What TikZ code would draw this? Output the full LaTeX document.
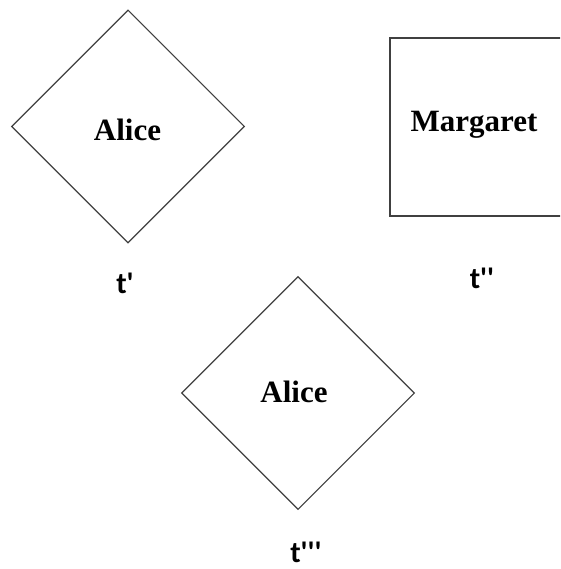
\documentclass[tikz,border=0pt]{standalone}
\usepackage{fontspec}
\usetikzlibrary{shapes.geometric}
\newfontfamily\namefont{Liberation Serif}[BoldFont={Liberation Serif Bold}]
\newfontfamily\labfont{Carlito}[BoldFont={Carlito Bold}]
\tikzset{
  shapeline/.style={draw=black!75, line width=1.1pt},
  diam/.style={shapeline, diamond, inner sep=0pt, minimum width=233pt, minimum height=233pt},
  sqbox/.style={shapeline, rectangle, inner sep=0pt, minimum width=180pt, minimum height=178pt},
  nametext/.style={font=\namefont\bfseries\fontsize{31}{36}\selectfont, inner sep=0pt, anchor=base},
  labtext/.style={font=\labfont\bfseries\fontsize{30}{36}\selectfont, inner sep=0pt, anchor=base}
}
\begin{document}
\begin{tikzpicture}[x=1pt,y=-1pt]
\useasboundingbox (0,0) rectangle (560,569);
\fill[white] (0,0) rectangle (560,569);
\begin{scope}
\clip (0,0) rectangle (560,569);
\node[diam] (d1) at (128,126.5) {};
\node[nametext] (a1) at (127.5,141) {Alice};
\node[sqbox] (m) at (480,127) {};
\node[nametext] (mt) at (474,132) {Margaret};
\node[diam] (d2) at (298,393) {};
\node[nametext] (a2) at (294,402) {Alice};
\end{scope}
\node[labtext] (l1) at (125,293) {t\symbol{39}};
\node[labtext] (l2) at (482,288) {t\symbol{39}\symbol{39}};
\node[labtext] (l3) at (306,562) {t\symbol{39}\symbol{39}\symbol{39}};
\end{tikzpicture}
\end{document}
